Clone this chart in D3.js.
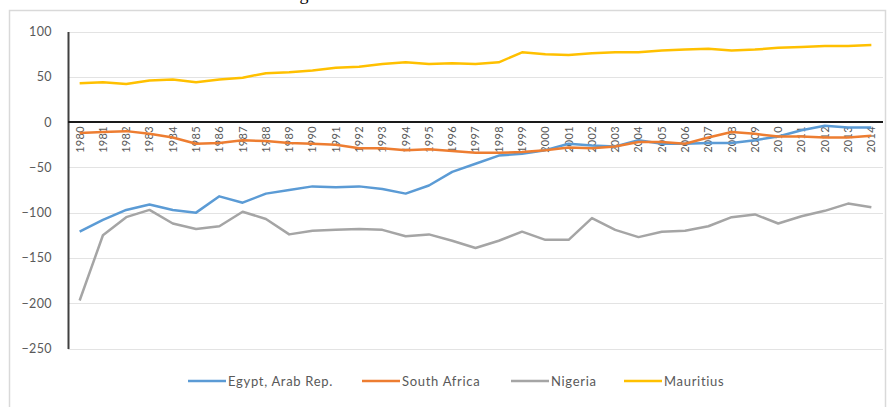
<!DOCTYPE html>
<html>
<head>
<meta charset="utf-8">
<script src="https://cdn.jsdelivr.net/npm/d3@7"></script>
<style>
  body { margin: 0; background: #fff; }
  svg { display: block; }
</style>
</head>
<body>
<svg width="890" height="407"></svg>
<script>
const years = d3.range(1980, 2015).map(String);
const yTicks = [100, 50, 0, -50, -100, -150, -200, -250];

const egypt = [-121, -108, -97, -91, -97, -100, -82, -89, -79, -75, -71, -72, -71, -74, -79, -70,
  -55, -46, -37, -35, -31, -24, -26, -27, -20, -24, -24, -23, -23, -20, -16, -9, -4, -6, -6];
const southAfrica = [-12, -11, -10, -13, -17, -24, -23, -20, -21, -23, -24, -25, -29, -29, -31, -30,
  -32, -34, -34, -33, -31, -28, -29, -27, -22, -22, -24, -17, -11, -13, -16, -16, -17, -17, -15];
const nigeria = [-197, -125, -105, -97, -112, -118, -115, -99, -107, -124, -120, -119, -118, -119, -126, -124,
  -131, -139, -131, -121, -130, -130, -106, -119, -127, -121, -120, -115, -105, -102, -112, -104, -98, -90, -94];
const mauritius = [43, 44, 42, 46, 47, 44, 47, 49, 54, 55, 57, 60, 61, 64, 66, 64,
  65, 64, 66, 77, 75, 74, 76, 77, 77, 79, 80, 81, 79, 80, 82, 83, 84, 84, 85];

const seriesNames = ["Egypt, Arab Rep.", "South Africa", "Nigeria", "Mauritius"];
const seriesColors = ["#5b9bd5", "#ed7d31", "#a5a5a5", "#ffc000"];
const seriesValues = [egypt, southAfrica, nigeria, mauritius];

const svg = d3.select("svg");
const font = "Lato, 'Open Sans', sans-serif";

// sentence above the chart, cut off by the top edge like in the source
svg.append("text")
    .attr("x", 386)
    .attr("y", -0.5)
    .attr("text-anchor", "end")
    .attr("font-family", "'Liberation Serif', serif")
    .attr("font-size", 18)
    .attr("fill", "#000")
    .text("has been increasing over time.");

// chart frame
svg.append("rect")
    .attr("x", 9.5).attr("y", 10.5)
    .attr("width", 876).attr("height", 420)
    .attr("fill", "#fff")
    .attr("stroke", "#d9d9d9")
    .attr("stroke-width", 1.5);

const x = d3.scaleBand().domain(years).range([68, 883]);
const cx = d => x(d) + x.bandwidth() / 2;
const y = d3.scaleLinear().domain([-250, 100]).range([348.5, 31.5]);

// gridlines
svg.append("g")
    .selectAll("line")
    .data(yTicks.filter(d => d !== 0))
    .join("line")
    .attr("x1", 68).attr("x2", 883)
    .attr("y1", d => Math.round(y(d)) + 0.5)
    .attr("y2", d => Math.round(y(d)) + 0.5)
    .attr("stroke", "#e3e3e3")
    .attr("stroke-width", 1);

// y axis
const yAxis = svg.append("g")
    .attr("transform", "translate(68,0)")
    .call(d3.axisLeft(y).tickValues(yTicks).tickSize(0).tickPadding(16));
yAxis.select(".domain").attr("stroke", "#404040").attr("stroke-width", 2);
yAxis.selectAll("text")
    .attr("font-family", font)
    .attr("font-size", 12.5)
    .attr("letter-spacing", 0.4)
    .attr("fill", "#595959");

// category labels, rotated, just under the zero line
svg.append("g")
    .selectAll("text")
    .data(years)
    .join("text")
    .attr("transform", d => `translate(${cx(d)},${y(0) + 4}) rotate(-90)`)
    .attr("text-anchor", "end")
    .attr("dy", "0.35em")
    .attr("font-family", font)
    .attr("font-size", 11)
    .attr("letter-spacing", 0.3)
    .attr("fill", "#595959")
    .text(d => d);

// zero line
svg.append("line")
    .attr("x1", 68).attr("x2", 883)
    .attr("y1", y(0)).attr("y2", y(0))
    .attr("stroke", "#1a1a1a")
    .attr("stroke-width", 2);

// series lines
const line = d3.line()
    .x((d, i) => cx(years[i]))
    .y(d => y(d));

svg.append("g")
    .attr("fill", "none")
    .attr("stroke-width", 2.5)
    .attr("stroke-linejoin", "round")
    .selectAll("path")
    .data(seriesValues)
    .join("path")
    .attr("stroke", (d, i) => seriesColors[i])
    .attr("d", line);

// legend
const legendX = [188, 362, 511, 624];
const legend = svg.append("g")
    .selectAll("g")
    .data(seriesNames)
    .join("g")
    .attr("transform", (d, i) => `translate(${legendX[i]},381)`);

legend.append("line")
    .attr("x1", 0).attr("x2", 38)
    .attr("stroke", (d, i) => seriesColors[i])
    .attr("stroke-width", 2.5);

legend.append("text")
    .attr("x", 40)
    .attr("dy", "0.35em")
    .attr("font-family", font)
    .attr("font-size", 13)
    .attr("letter-spacing", 0.7)
    .attr("fill", "#595959")
    .text(d => d);
</script>
</body>
</html>
